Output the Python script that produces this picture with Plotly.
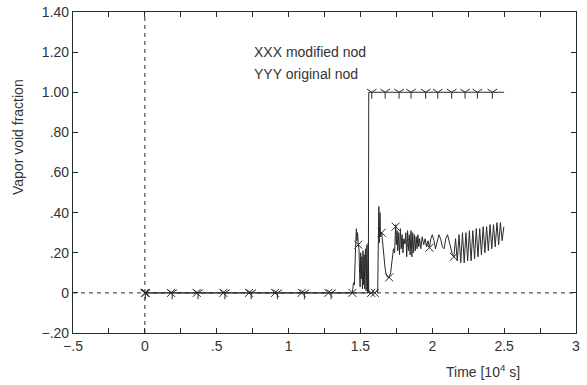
import plotly.graph_objects as go

# ---- data ----
mod_t = [0, 1.43, 1.444, 1.452, 1.458, 1.466, 1.472, 1.476, 1.48, 1.485, 1.49, 1.494, 1.498,
         1.502, 1.506, 1.51, 1.514, 1.518, 1.522, 1.526, 1.53, 1.535, 1.54, 1.545, 1.55, 1.555,
         1.558, 1.575, 1.6, 1.615, 1.62, 1.628, 1.632, 1.636, 1.64, 1.648, 1.656, 1.664, 1.672,
         1.68, 1.69, 1.70, 1.71, 1.72, 1.73, 1.738, 1.745, 1.75, 1.755, 1.76, 1.766, 1.772, 1.778,
         1.784, 1.79, 1.796, 1.802, 1.81, 1.816, 1.822, 1.828, 1.834, 1.84, 1.846, 1.852, 1.858,
         1.864, 1.87, 1.876, 1.882, 1.888, 1.894, 1.90, 1.906, 1.912, 1.92, 1.93, 1.94, 1.95, 1.96,
         1.97, 1.98, 1.99, 2.0, 2.012, 2.022, 2.034, 2.046, 2.058, 2.07, 2.082, 2.094, 2.106, 2.118,
         2.13, 2.14, 2.150, 2.162, 2.174, 2.186, 2.198, 2.210, 2.222, 2.234, 2.246, 2.258, 2.270,
         2.282, 2.294, 2.306, 2.318, 2.330, 2.342, 2.354, 2.366, 2.378, 2.390, 2.402, 2.414, 2.426,
         2.438, 2.450, 2.462, 2.474, 2.486, 2.498]
mod_v = [0, 0, 0.0, 0.05, 0.04, 0.22, 0.32, 0.26, 0.30, 0.24, 0.22, 0.10, 0.03,
         0.20, 0.07, 0.18, 0.02, 0.21, 0.04, 0.19, 0.02, 0.22, 0.01, 0.24, 0.0, 0.25,
         0.0, 0.0, 0.0, 0.01, 0.0, 0.43, 0.25, 0.40, 0.28, 0.30, 0.24, 0.17, 0.12,
         0.09, 0.077, 0.077, 0.10, 0.16, 0.22, 0.20, 0.34, 0.24, 0.31, 0.21, 0.30, 0.19, 0.32,
         0.22, 0.29, 0.20, 0.27, 0.25, 0.30, 0.18, 0.31, 0.21, 0.29, 0.19, 0.31, 0.18,
         0.30, 0.20, 0.29, 0.21, 0.28, 0.22, 0.29, 0.23, 0.27, 0.22, 0.28, 0.24, 0.27, 0.23,
         0.26, 0.225, 0.27, 0.29, 0.26, 0.22, 0.25, 0.29, 0.27, 0.23, 0.22, 0.27, 0.29, 0.26,
         0.22, 0.19, 0.18, 0.27, 0.16, 0.29, 0.15, 0.30, 0.15, 0.30, 0.16, 0.31, 0.16,
         0.31, 0.17, 0.32, 0.18, 0.32, 0.19, 0.33, 0.20, 0.33, 0.21, 0.34, 0.22, 0.34,
         0.23, 0.35, 0.24, 0.35, 0.26, 0.33]

orig_t = [0, 1.555, 1.558, 2.5]
orig_v = [0, 0, 1.0, 1.0]

mod_mark_t = [0, 0.006, 0.182, 0.361, 0.546, 0.725, 0.906, 1.091, 1.277, 1.444,
              1.485, 1.575, 1.60, 1.648, 1.70, 1.745, 1.81, 1.98, 2.15]
mod_mark_v = [0, 0, 0, 0, 0, 0, 0, 0, 0, 0,
              0.24, 0, 0, 0.30, 0.077, 0.33, 0.25, 0.225, 0.18]

orig_mark_t = [0.003, 0.19, 0.37, 0.557, 0.74, 0.922, 1.11, 1.296,
               1.579, 1.672, 1.769, 1.852, 1.954, 2.038, 2.135, 2.228, 2.314, 2.418]
orig_mark_v = [0, 0, 0, 0, 0, 0, 0, 0,
               1, 1, 1, 1, 1, 1, 1, 1, 1, 1]

x_tickvals = [-0.5, -0.25, 0, 0.25, 0.5, 0.75, 1, 1.25, 1.5, 1.75, 2, 2.25, 2.5, 2.75, 3]
x_ticktext = ["\u2212.5", "", "0", "", ".5", "", "1", "", "1.5", "", "2", "", "2.5", "", "3"]
y_tickvals = [-0.2, 0, 0.2, 0.4, 0.6, 0.8, 1.0, 1.2, 1.4]
y_ticktext = ["\u2212.20", "0", ".20", ".40", ".60", ".80", "1.00", "1.20", "1.40"]

INK = "#2a2a2a"
TXT = "#333333"
FONT = "Liberation Sans, Arial, sans-serif"

fig = go.Figure()
fig.add_trace(go.Scatter(x=orig_t, y=orig_v, mode="lines",
                         line=dict(color=INK, width=1), hoverinfo="skip"))
fig.add_trace(go.Scatter(x=mod_t, y=mod_v, mode="lines",
                         line=dict(color=INK, width=1), hoverinfo="skip"))
fig.add_trace(go.Scatter(x=mod_mark_t, y=mod_mark_v, mode="markers",
                         marker=dict(symbol="x-thin-open", size=8, color=INK,
                                     line=dict(color=INK, width=1)),
                         hoverinfo="skip"))
fig.add_trace(go.Scatter(x=orig_mark_t, y=orig_mark_v, mode="markers",
                         marker=dict(symbol="y-down-open", size=8, color=INK,
                                     line=dict(color=INK, width=1)),
                         hoverinfo="skip"))

fig.add_shape(type="line", xref="x", yref="y", x0=0, x1=0, y0=-0.2, y1=1.4,
              line=dict(color=INK, width=1, dash="4px,4px"), layer="below")
fig.add_shape(type="line", xref="x", yref="y", x0=-0.5, x1=3, y0=0, y1=0,
              line=dict(color=INK, width=1, dash="4px,4px"), layer="below")

axis_common = dict(showline=True, linecolor=INK, linewidth=1.2, mirror="ticks",
                   ticks="inside", ticklen=5, tickwidth=1.2, tickcolor=INK,
                   showgrid=False, zeroline=False, automargin=False,
                   tickfont=dict(family=FONT, size=14, color=TXT))

L, R, T, B = 73, 11, 12, 52
W, H = 587, 385
fig.update_layout(
    width=W, height=H,
    margin=dict(l=L, r=R, t=T, b=B, pad=0),
    paper_bgcolor="white", plot_bgcolor="white",
    showlegend=False,
    xaxis=dict(range=[-0.5, 3], tickmode="array", tickvals=x_tickvals, ticktext=x_ticktext,
               **axis_common),
    yaxis=dict(range=[-0.2, 1.4], tickmode="array", tickvals=y_tickvals, ticktext=y_ticktext,
               **axis_common),
)

pw, ph = W - L - R, H - T - B
def px(xp):
    return (xp - L) / pw
def py(yp):
    return (H - B - yp) / ph

fig.add_annotation(text="XXX modified nod", x=px(252), y=py(42), xref="paper", yref="paper",
                   showarrow=False, xanchor="left", yanchor="top",
                   font=dict(family=FONT, size=14, color=TXT))
fig.add_annotation(text="YYY original nod", x=px(252), y=py(64), xref="paper", yref="paper",
                   showarrow=False, xanchor="left", yanchor="top",
                   font=dict(family=FONT, size=14, color=TXT))
fig.add_annotation(text="Vapor void fraction", textangle=-90, x=px(18), y=py(137),
                   xref="paper", yref="paper", showarrow=False,
                   xanchor="center", yanchor="middle",
                   font=dict(family=FONT, size=14, color=TXT))
fig.add_annotation(text="Time [10<sup>4</sup> s]", x=px(483), y=py(371),
                   xref="paper", yref="paper", showarrow=False,
                   xanchor="center", yanchor="middle",
                   font=dict(family=FONT, size=14, color=TXT))

fig.write_html("out.html")
